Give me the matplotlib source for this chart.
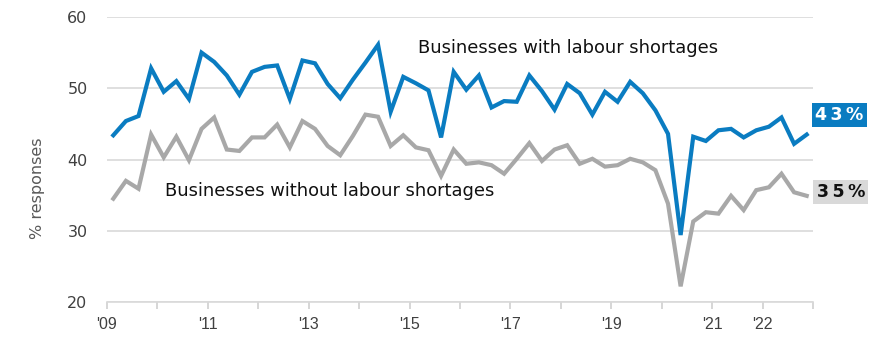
import matplotlib
matplotlib.use("Agg")
import matplotlib.pyplot as plt
import numpy as np

# quarterly survey, 2009 Q1 .. 2022 Q4
years = np.arange(2009, 2023)
quarters = [1, 2, 3, 4]

with_shortages = [
  43.4, 45.4, 46.1, 52.8, 49.5, 51.0, 48.5, 55.0, 53.7, 51.8, 49.1, 52.3,
  53.0, 53.2, 48.5, 53.9, 53.5, 50.6, 48.6, 51.2, 53.6, 56.1, 46.7,
  51.6, 50.7, 49.7, 43.1, 52.3, 49.8, 51.8, 47.3, 48.2, 48.1, 51.8, 49.6,
  47.0, 50.6, 49.3, 46.3, 49.5, 48.1, 50.9, 49.3, 46.9, 43.6, 29.4,
  43.2, 42.6, 44.1, 44.3, 43.1, 44.1, 44.6, 45.9, 42.2, 43.5,
]
without_shortages = [
  34.5, 37.0, 35.9, 43.5, 40.3, 43.2, 39.9, 44.3, 45.9, 41.4, 41.2, 43.1,
  43.1, 44.9, 41.7, 45.4, 44.3, 41.9, 40.6, 43.3, 46.3, 46.0, 41.9,
  43.4, 41.7, 41.3, 37.7, 41.4, 39.4, 39.6, 39.2, 38.0, 40.1, 42.3, 39.8,
  41.4, 42.0, 39.4, 40.1, 39.0, 39.2, 40.1, 39.6, 38.5, 33.8, 22.2,
  31.3, 32.6, 32.4, 34.9, 32.9, 35.7, 36.1, 38.0, 35.4, 34.9,
]
tick_years = [2009, 2011, 2013, 2015, 2017, 2019, 2021, 2022]
tick_labels = ["'09", "'11", "'13", "'15", "'17", "'19", "'21", "'22"]
last_labels = ["4\u20093\u2009%", "3\u20095\u2009%"]

blue = "#0a7cc1"
grey = "#a8a8a8"

x = np.array([y + (q - 0.5) / 4 for y in years for q in quarters])

fig = plt.figure(figsize=(8.85, 3.39), dpi=100)
ax = fig.add_axes([107 / 885, 37 / 339, 706 / 885, 285 / 339])

ax.plot(x, without_shortages, color=grey, lw=3, solid_joinstyle="miter")
ax.plot(x, with_shortages, color=blue, lw=3, solid_joinstyle="miter")

ax.set_xlim(2009, 2023)
ax.set_ylim(20, 60)
ax.set_yticks([20, 30, 40, 50, 60])
ax.yaxis.grid(True, color="#d9d9d9", lw=1.2)
ax.set_axisbelow(True)
ax.tick_params(axis="y", length=0, labelsize=11.5, labelcolor="#404040", pad=14)

ax.set_xticks(np.arange(2009, 2024), minor=True)
ax.set_xticks(tick_years)
ax.set_xticklabels(tick_labels, fontfamily="Liberation Sans", fontsize=11.5, color="#404040")
ax.tick_params(axis="x", which="both", length=5, color="#d0d0d0", width=1.2, pad=6)

for s in ["top", "right", "left"]:
  ax.spines[s].set_visible(False)
ax.spines["bottom"].set_color("#d9d9d9")
ax.spines["bottom"].set_linewidth(1.2)

ax.set_ylabel("% responses", fontsize=11.5, color="#595959")
ax.yaxis.set_label_coords(-0.088, 0.40)

ax.text(2015.17, 55.7, "Businesses with labour shortages", fontsize=12.9,
        color="#111111", va="center", ha="left")
ax.text(2010.15, 35.6, "Businesses without labour shortages", fontsize=12.9,
        color="#111111", va="center", ha="left")

ax.annotate(last_labels[0], (x[-1], with_shortages[-1]), xytext=(23.5, 14),
            textcoords="offset points", color="white", fontsize=12.5, fontweight="bold",
            va="center", ha="center",
            bbox=dict(boxstyle="square,pad=0.18", fc=blue, ec="none"))
ax.annotate(last_labels[1], (x[-1], without_shortages[-1]), xytext=(24.5, 3),
            textcoords="offset points", color="#111111", fontsize=12.5, fontweight="bold",
            va="center", ha="center",
            bbox=dict(boxstyle="square,pad=0.18", fc="#d9d9d9", ec="none"))

fig.savefig("out.png", dpi=100)
